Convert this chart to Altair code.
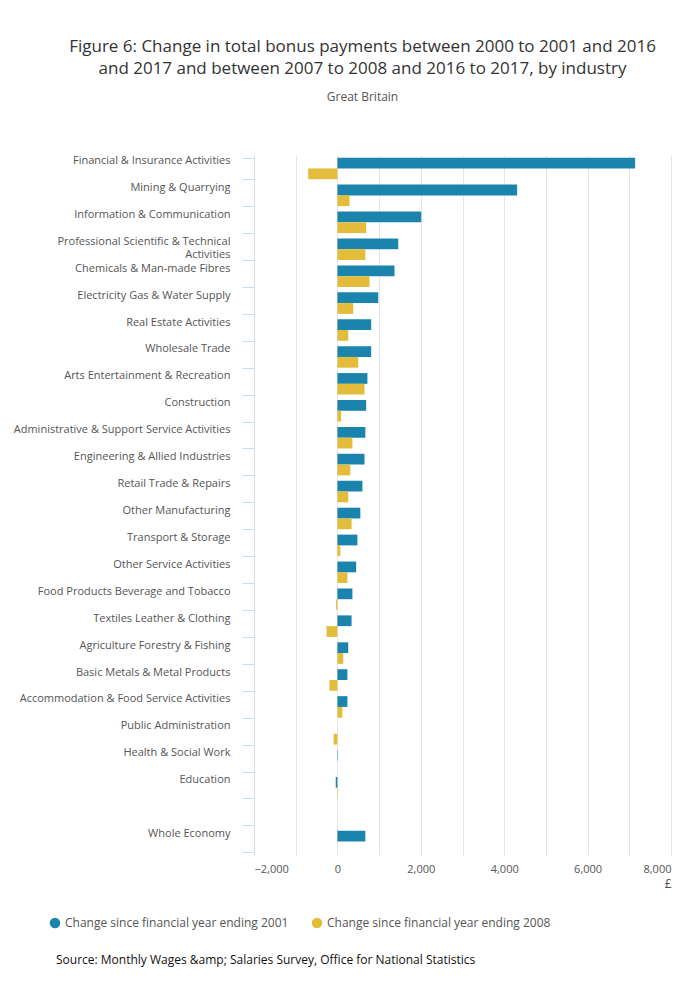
import pandas as pd
import altair as alt

industries = [
    "Financial & Insurance Activities", "Mining & Quarrying", "Information & Communication",
    "Professional Scientific & Technical Activities", "Chemicals & Man-made Fibres",
    "Electricity Gas & Water Supply", "Real Estate Activities", "Wholesale Trade",
    "Arts Entertainment & Recreation", "Construction", "Administrative & Support Service Activities",
    "Engineering & Allied Industries", "Retail Trade & Repairs", "Other Manufacturing",
    "Transport & Storage", "Other Service Activities", "Food Products Beverage and Tobacco",
    "Textiles Leather & Clothing", "Agriculture Forestry & Fishing", "Basic Metals & Metal Products",
    "Accommodation & Food Service Activities", "Public Administration", "Health & Social Work",
    "Education", " ", "Whole Economy",
]
since_2001 = [7140, 4310, 2010, 1460, 1370, 980, 810, 810, 720, 690, 670, 650, 600, 550,
              480, 450, 360, 340, 260, 240, 240, 0, 10, -40, None, 670]
since_2008 = [-700, 290, 690, 670, 770, 380, 260, 500, 650, 90, 360, 310, 260, 340,
              70, 240, -30, -260, 140, -190, 120, -90, 0, 10, None, 0]
series = ["Change since financial year ending 2001", "Change since financial year ending 2008"]

rows = []
for i, name in enumerate(industries):
    rows.append({"industry": name, "series": series[0], "value": since_2001[i]})
    rows.append({"industry": name, "series": series[1], "value": since_2008[i]})
df = pd.DataFrame(rows)

font = "Open Sans"
label_expr = ("datum.value == 'Professional Scientific & Technical Activities' ? "
              "['Professional Scientific & Technical', 'Activities'] : datum.value")

bars = alt.Chart(df).mark_bar().encode(
    y=alt.Y("industry:N", sort=industries, title=None,
            scale=alt.Scale(paddingInner=0.2, paddingOuter=0.1),
            axis=alt.Axis(labelExpr=label_expr, labelColor="#555", labelFontSize=11,
                          labelFont=font, labelLimit=240, labelPadding=12,
                          tickBand="extent", tickColor="#cfe0ec", tickSize=12,
                          domain=True, domainColor="#cfe0ec", grid=False, labelOffset=-8)),
    yOffset=alt.YOffset("series:N", sort=series),
    x=alt.X("value:Q", scale=alt.Scale(domain=[-2000, 8000]), title="£",
            axis=alt.Axis(values=list(range(-2000, 8001, 1000)),
                          labelExpr="format(datum.value, ',.0f')",
                          labelColor="#555", labelFont=font, labelFontSize=11,
                          titleColor="#555", titleFont=font, titleFontWeight="normal",
                          titleFontSize=12, titleAnchor="end", titleAlign="right",
                          domain=False, ticks=False, gridColor="#e6e6e6", labelPadding=8)),
    color=alt.Color("series:N", sort=series,
                    scale=alt.Scale(domain=series, range=["#1b84ad", "#e2bc3a"]),
                    legend=alt.Legend(orient="none", legendX=-205, legendY=762,
                                      direction="horizontal", title=None, symbolType="circle",
                                      symbolSize=110, labelFont=font, labelFontSize=12,
                                      labelColor="#555", columnPadding=22, labelLimit=400)),
)

source = alt.Chart(pd.DataFrame({"t": ["Source: Monthly Wages &amp; Salaries Survey, Office for National Statistics"]})).mark_text(
    align="left", baseline="middle", font=font, fontSize=12, color="#111"
).encode(text="t:N", x=alt.value(-198), y=alt.value(805))

chart = alt.layer(bars, source).properties(
    width=417, height=700,
    padding={"top": 30, "left": 5, "right": 5, "bottom": 5},
    title=alt.TitleParams(
        ["Figure 6: Change in total bonus payments between 2000 to 2001 and 2016",
         "and 2017 and between 2007 to 2008 and 2016 to 2017, by industry"],
        subtitle="Great Britain", font=font, fontSize=17, fontWeight="normal", color="#333",
        lineHeight=22, subtitleFont=font, subtitleFontSize=12, subtitleColor="#555",
        anchor="middle", offset=45, subtitlePadding=14, dx=-100,
    ),
).configure_view(stroke=None)

chart.save("out.html", embed_options={"renderer": "svg", "actions": False})
